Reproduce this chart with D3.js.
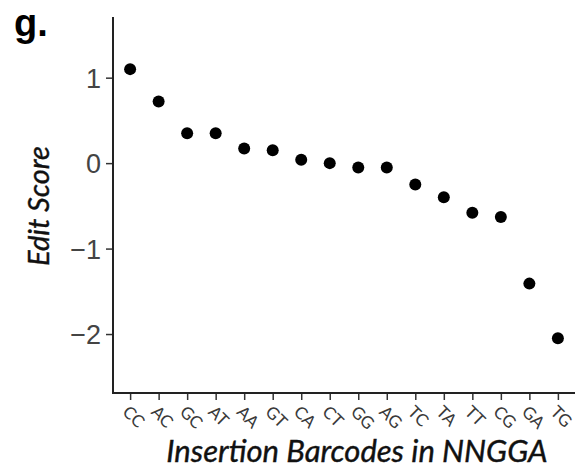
<!DOCTYPE html>
<html lang="en">
<head>
<meta charset="utf-8">
<title>Edit score by insertion barcode</title>
<style>
  html, body { margin: 0; padding: 0; background: white; }
  .axis text { font-family: "Liberation Sans", Arial, sans-serif; }
  .title { font-family: Lato, "Open Sans", sans-serif; font-style: italic; }
</style>
</head>
<body>
<div id="chart"></div>
<script src="https://cdn.jsdelivr.net/npm/d3@7"></script>
<script>
// barcodes, sorted by score
var barcodes = ["CC","AC","GC","AT","AA","GT","CA","CT","GG","AG","TC","TA","TT","CG","GA","TG"];
var scores = [1.10, 0.72, 0.35, 0.35, 0.17, 0.15, 0.04, 0.00, -0.05, -0.05, -0.25, -0.40, -0.58, -0.63, -1.41, -2.05];
var yTicks = [-2, -1, 0, 1];

var width = 577, height = 469;
var margin = {left: 113, right: 575, top: 17, bottom: 393};

var svg = d3.select("#chart").append("svg")
  .attr("width", width)
  .attr("height", height);

var x = d3.scalePoint()
  .domain(barcodes)
  .range([margin.left, margin.right])
  .padding(0.6);

var y = d3.scaleLinear()
  .domain([-2.69, 1.71])
  .range([margin.bottom, margin.top]);

// y axis
var yAxis = svg.append("g")
  .attr("class", "axis")
  .attr("transform", "translate(" + margin.left + ",0)")
  .call(d3.axisLeft(y).tickValues(yTicks).tickSize(7).tickPadding(5)
    .tickFormat(function (d) { return d < 0 ? "\u2212" + Math.abs(d) : d; }));
yAxis.select(".domain").remove();
yAxis.selectAll(".tick line").attr("stroke", "#333").attr("stroke-width", 1.5);
yAxis.selectAll(".tick text")
  .attr("fill", "#444")
  .style("font-size", "27px")
  .attr("dy", "0.36em");

// x axis
var xAxis = svg.append("g")
  .attr("class", "axis")
  .attr("transform", "translate(0," + margin.bottom + ")")
  .call(d3.axisBottom(x).tickSize(7).tickPadding(0));
xAxis.select(".domain").remove();
xAxis.selectAll(".tick line").attr("stroke", "#333").attr("stroke-width", 1.5);
xAxis.selectAll(".tick text")
  .attr("fill", "#3a3a3a")
  .style("font-family", "Lato, sans-serif")
  .style("font-size", "17px")
  .attr("text-anchor", "start")
  .attr("dy", null)
  .attr("y", 0)
  .attr("transform", "translate(-9,20) rotate(45)");

// axis lines
svg.append("line")
  .attr("x1", margin.left).attr("x2", margin.left)
  .attr("y1", margin.top).attr("y2", margin.bottom + 1)
  .attr("stroke", "#222").attr("stroke-width", 2);
svg.append("line")
  .attr("x1", margin.left - 1).attr("x2", margin.right)
  .attr("y1", margin.bottom).attr("y2", margin.bottom)
  .attr("stroke", "#222").attr("stroke-width", 2);

// points
svg.append("g")
  .selectAll("circle")
  .data(barcodes)
  .enter()
  .append("circle")
  .attr("cx", function (d) { return x(d); })
  .attr("cy", function (d, i) { return y(scores[i]); })
  .attr("r", 6)
  .attr("fill", "black");

// titles
svg.append("text")
  .attr("class", "title")
  .attr("x", 357)
  .attr("y", 462)
  .attr("text-anchor", "middle")
  .style("font-size", "31px")
  .attr("fill", "#111")
  .attr("stroke", "#111")
  .attr("stroke-width", 0.4)
  .text("Insertion Barcodes in NNGGA");

svg.append("text")
  .attr("class", "title")
  .attr("transform", "translate(49,206) rotate(-90)")
  .attr("text-anchor", "middle")
  .style("font-size", "29px")
  .attr("fill", "#111")
  .attr("stroke", "#111")
  .attr("stroke-width", 0.4)
  .text("Edit Score");

svg.append("text")
  .attr("x", 14)
  .attr("y", 36)
  .style("font-family", "Liberation Sans, Arial, sans-serif")
  .style("font-weight", "bold")
  .style("font-size", "38px")
  .attr("fill", "black")
  .text("g.");
</script>
</body>
</html>
